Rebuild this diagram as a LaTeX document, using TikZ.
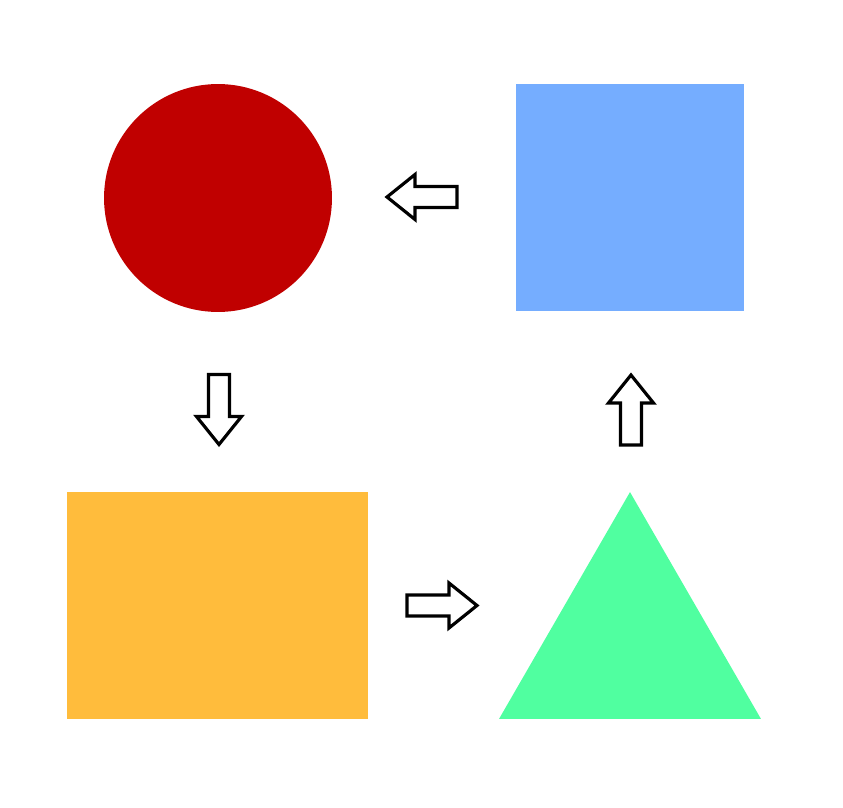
\documentclass[tikz,border=0pt]{standalone}
\usetikzlibrary{shapes.geometric}
\usepackage{xcolor}
\definecolor{dotred}{RGB}{192, 0, 0}
\definecolor{boxblue}{RGB}{117, 173, 255}
\definecolor{boxorange}{RGB}{255, 188, 60}
\definecolor{trigreen}{RGB}{80, 255, 160}
\tikzstyle{shapebox} = [rectangle, inner sep=0pt, draw=none]
\tikzset{blockarr/.pic={
  \draw [draw=black, fill=white, line width=1.8pt, line join=miter]
    (-35,-10.5) -- (7,-10.5) -- (7,-22.5) -- (35,0) -- (7,22.5) -- (7,10.5) -- (-35,10.5) -- cycle;
}}

\begin{document}
\begin{tikzpicture}[x=0.02cm, y=-0.02cm]
  \useasboundingbox (0,0) rectangle (843,808);

  \node (dot)    [circle, fill=dotred, inner sep=0pt, minimum size=4.56cm] at (218,198) {};
  \node (square) [shapebox, fill=boxblue, minimum width=4.56cm, minimum height=4.54cm] at (630,197.5) {};
  \node (rect)   [shapebox, fill=boxorange, minimum width=6.02cm, minimum height=4.54cm] at (217.5,605.5) {};
  \node (tri)    [regular polygon, regular polygon sides=3, fill=trigreen, inner sep=0pt,
                  minimum size=6.05cm] at (630,643.3) {};

  % Arrows
  \pic (toleft)  [rotate=180] at (422,197) {blockarr};
  \pic (todown)  [rotate=270] at (219,409.5) {blockarr};
  \pic (toright)              at (442,605.5) {blockarr};
  \pic (toup)    [rotate=90]  at (631,410) {blockarr};
\end{tikzpicture}
\end{document}
